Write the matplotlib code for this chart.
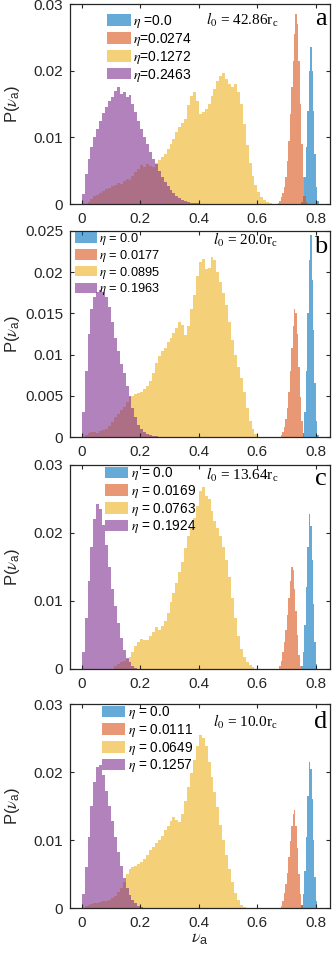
import numpy as np
import matplotlib

matplotlib.use("Agg")
import matplotlib.pyplot as plt
from matplotlib.ticker import FuncFormatter

# P(nu_a) histograms.  Broad curves (yellow, purple) use
# 0.01 bins, the narrow peaks (blue, orange) 0.005 bins; *_x0 is the left edge.
WIDE = 0.01
NARROW = 0.005

# ---- panel a : l0 = 42.86 rc
a_labels = [r"$\eta$ =0.0", r"$\eta$=0.0274", r"$\eta$=0.1272", r"$\eta$=0.2463"]
a_blue_x0 = 0.750
a_blue = [0.0003, 0.0012, 0.0040, 0.0085, 0.0140, 0.0200, 0.0235, 0.0200,
          0.0140, 0.0075, 0.0025, 0.0005]
a_orange_x0 = 0.670
a_orange = [0.0002, 0.0005, 0.0010, 0.0016, 0.0025, 0.0040, 0.0065, 0.0095,
            0.0135, 0.0175, 0.0215, 0.0255, 0.0285, 0.0270, 0.0215, 0.0150,
            0.0090, 0.0040, 0.0012, 0.0003]
a_yellow_x0 = 0.02
a_yellow = [0.0003, 0.0008, 0.0012, 0.0014, 0.0017, 0.0020, 0.0022, 0.0024,
            0.0027, 0.0028, 0.0032, 0.0030, 0.0035, 0.0038, 0.0036, 0.0042,
            0.0048, 0.0052, 0.0058, 0.0055, 0.0060, 0.0057, 0.0056, 0.0062,
            0.0066, 0.0070, 0.0075, 0.0082, 0.0090, 0.0098, 0.0108, 0.0115,
            0.0122, 0.0128, 0.0148, 0.0162, 0.0168, 0.0155, 0.0135, 0.0138,
            0.0142, 0.0150, 0.0162, 0.0172, 0.0184, 0.0192, 0.0197, 0.0188,
            0.0180, 0.0175, 0.0180, 0.0168, 0.0150, 0.0120, 0.0088, 0.0062,
            0.0042, 0.0028, 0.0018, 0.0011, 0.0006, 0.0003, 0.0001]
a_purple_x0 = 0.0
a_purple = [0.0015, 0.0045, 0.0068, 0.0085, 0.0100, 0.0112, 0.0125, 0.0137,
            0.0145, 0.0155, 0.0160, 0.0170, 0.0176, 0.0165, 0.0168, 0.0160,
            0.0163, 0.0150, 0.0138, 0.0125, 0.0112, 0.0100, 0.0090, 0.0078,
            0.0068, 0.0060, 0.0050, 0.0040, 0.0033, 0.0027, 0.0021, 0.0016,
            0.0012, 0.0009, 0.0006, 0.0004, 0.0003, 0.0002, 0.0001, 0.0001]

# ---- panel b : l0 = 20.0 rc
b_labels = [r"$\eta$ = 0.0", r"$\eta$ = 0.0177", r"$\eta$ = 0.0895", r"$\eta$ = 0.1963"]
b_blue_x0 = 0.755
b_blue = [0.0005, 0.0030, 0.0080, 0.0150, 0.0215, 0.0245, 0.0190, 0.0130,
          0.0065, 0.0020, 0.0003]
b_orange_x0 = 0.680
b_orange = [0.0002, 0.0006, 0.0012, 0.0022, 0.0035, 0.0055, 0.0080, 0.0108,
            0.0135, 0.0155, 0.0150, 0.0125, 0.0085, 0.0048, 0.0020, 0.0005]
b_yellow_x0 = 0.01
b_yellow = [0.0003, 0.0005, 0.0006, 0.0006, 0.0005, 0.0007, 0.0008, 0.0010,
            0.0013, 0.0018, 0.0024, 0.0028, 0.0033, 0.0037, 0.0042, 0.0048,
            0.0050, 0.0052, 0.0053, 0.0055, 0.0058, 0.0062, 0.0068, 0.0078,
            0.0090, 0.0098, 0.0104, 0.0108, 0.0115, 0.0120, 0.0126, 0.0132,
            0.0140, 0.0136, 0.0124, 0.0135, 0.0155, 0.0172, 0.0195, 0.0212,
            0.0216, 0.0204, 0.0205, 0.0218, 0.0215, 0.0200, 0.0188, 0.0175,
            0.0160, 0.0140, 0.0118, 0.0100, 0.0085, 0.0072, 0.0055, 0.0035,
            0.0020, 0.0010, 0.0004]
b_purple_x0 = 0.0
b_purple = [0.0030, 0.0080, 0.0125, 0.0155, 0.0170, 0.0176, 0.0178, 0.0176,
            0.0170, 0.0158, 0.0140, 0.0120, 0.0104, 0.0088, 0.0078, 0.0062,
            0.0050, 0.0035, 0.0024, 0.0015, 0.0010, 0.0006, 0.0004, 0.0002,
            0.0001, 0.0001]

# ---- panel c : l0 = 13.64 rc
c_labels = [r"$\eta$ = 0.0", r"$\eta$ = 0.0169", r"$\eta$ = 0.0763", r"$\eta$ = 0.1924"]
c_blue_x0 = 0.750
c_blue = [0.0005, 0.0025, 0.0065, 0.0120, 0.0180, 0.0228, 0.0210, 0.0160,
          0.0095, 0.0040, 0.0008]
c_orange_x0 = 0.675
c_orange = [0.0004, 0.0012, 0.0025, 0.0040, 0.0058, 0.0080, 0.0105, 0.0130,
            0.0150, 0.0145, 0.0118, 0.0085, 0.0050, 0.0020, 0.0005]
c_yellow_x0 = 0.11
c_yellow = [0.0005, 0.0008, 0.0010, 0.0012, 0.0015, 0.0018, 0.0025, 0.0034,
            0.0040, 0.0044, 0.0043, 0.0042, 0.0048, 0.0054, 0.0062, 0.0058,
            0.0063, 0.0070, 0.0082, 0.0098, 0.0112, 0.0126, 0.0142, 0.0158,
            0.0178, 0.0195, 0.0208, 0.0222, 0.0240, 0.0262, 0.0268, 0.0254,
            0.0250, 0.0232, 0.0218, 0.0208, 0.0195, 0.0180, 0.0160, 0.0135,
            0.0105, 0.0075, 0.0048, 0.0030, 0.0018, 0.0010, 0.0006, 0.0003]
c_purple_x0 = 0.0
c_purple = [0.0025, 0.0075, 0.0130, 0.0180, 0.0220, 0.0243, 0.0235, 0.0212,
            0.0182, 0.0150, 0.0118, 0.0092, 0.0068, 0.0045, 0.0028, 0.0016,
            0.0010, 0.0005, 0.0002]

# ---- panel d : l0 = 10.0 rc
d_labels = [r"$\eta$ = 0.0", r"$\eta$ = 0.0111", r"$\eta$ = 0.0649", r"$\eta$ = 0.1257"]
d_blue_x0 = 0.750
d_blue = [0.0004, 0.0020, 0.0055, 0.0105, 0.0165, 0.0215, 0.0205, 0.0160,
          0.0100, 0.0045, 0.0010]
d_orange_x0 = 0.680
d_orange = [0.0003, 0.0010, 0.0022, 0.0035, 0.0052, 0.0075, 0.0098, 0.0120,
            0.0138, 0.0144, 0.0120, 0.0088, 0.0050, 0.0020, 0.0005]
d_yellow_x0 = 0.01
d_yellow = [0.0003, 0.0005, 0.0006, 0.0007, 0.0008, 0.0009, 0.0010, 0.0011,
            0.0012, 0.0015, 0.0018, 0.0023, 0.0030, 0.0038, 0.0050, 0.0058,
            0.0060, 0.0062, 0.0064, 0.0068, 0.0072, 0.0078, 0.0085, 0.0090,
            0.0096, 0.0100, 0.0106, 0.0115, 0.0120, 0.0128, 0.0134, 0.0130,
            0.0126, 0.0138, 0.0158, 0.0178, 0.0198, 0.0218, 0.0238, 0.0254,
            0.0250, 0.0238, 0.0215, 0.0192, 0.0170, 0.0148, 0.0122, 0.0100,
            0.0078, 0.0058, 0.0038, 0.0022, 0.0012, 0.0005, 0.0002]
d_purple_x0 = 0.0
d_purple = [0.0020, 0.0060, 0.0105, 0.0150, 0.0185, 0.0208, 0.0210, 0.0195,
            0.0172, 0.0150, 0.0128, 0.0105, 0.0082, 0.0062, 0.0044, 0.0030,
            0.0019, 0.0012, 0.0007, 0.0003, 0.0001]

l0_texts = ["42.86", "20.0", "13.64", "10.0"]
letters = ["a", "b", "c", "d"]
y_tops = [0.03, 0.025, 0.03, 0.03]
y_steps = [0.01, 0.005, 0.01, 0.01]
x_ticks = [0, 0.2, 0.4, 0.6, 0.8]

# MATLAB default colour order, drawn with FaceAlpha 0.6
COLORS = ["#0072BD", "#D95319", "#EDB120", "#7E2F8E"]

plt.rcParams["font.family"] = ["Liberation Sans", "DejaVu Sans"]
plt.rcParams["mathtext.fontset"] = "stix"

W, H = 332, 955
fig = plt.figure(figsize=(W / 100, H / 100), dpi=100)

# axes boxes in pixels: (left, top, right, bottom)
boxes = [(70, 4, 330, 204), (70, 231, 330, 437), (70, 465, 330, 669), (70, 704, 330, 908)]
# legend anchor (axes fraction) and font size
leg_pos = [(0.142, 0.955), (0.019, 1.0), (0.135, 1.0), (0.123, 1.0)]
leg_size = [10.0, 9.2, 9.8, 9.8]
l0_y = [0.895, 0.932, 0.926, 0.887]
letter_y = [0.895, 0.893, 0.90, 0.88]

panels = [
    (a_labels, [(a_blue_x0, a_blue, NARROW), (a_orange_x0, a_orange, NARROW),
                (a_yellow_x0, a_yellow, WIDE), (a_purple_x0, a_purple, WIDE)]),
    (b_labels, [(b_blue_x0, b_blue, NARROW), (b_orange_x0, b_orange, NARROW),
                (b_yellow_x0, b_yellow, WIDE), (b_purple_x0, b_purple, WIDE)]),
    (c_labels, [(c_blue_x0, c_blue, NARROW), (c_orange_x0, c_orange, NARROW),
                (c_yellow_x0, c_yellow, WIDE), (c_purple_x0, c_purple, WIDE)]),
    (d_labels, [(d_blue_x0, d_blue, NARROW), (d_orange_x0, d_orange, NARROW),
                (d_yellow_x0, d_yellow, WIDE), (d_purple_x0, d_purple, WIDE)]),
]

fmt = FuncFormatter(lambda v, _: f"{v:g}")

for i, (labels, series) in enumerate(panels):
    l, t, r, b = boxes[i]
    ax = fig.add_axes([l / W, (H - b) / H, (r - l) / W, (b - t) / H])

    for (x0, vals, bw), color, lab in zip(series, COLORS, labels):
        edges = x0 + bw * np.arange(len(vals) + 1)
        ax.stairs(vals, edges, fill=True, color=color, alpha=0.6, lw=0, label=lab)

    ax.set_xlim(-0.04, 0.848)
    ax.set_ylim(0, y_tops[i])
    ax.set_xticks(x_ticks)
    ax.set_yticks(np.arange(0, y_tops[i] + 1e-9, y_steps[i]))
    ax.xaxis.set_major_formatter(fmt)
    ax.yaxis.set_major_formatter(fmt)
    ax.tick_params(direction="in", length=3, width=0.8, top=True, right=True,
                   labelsize=11, colors="#262626", pad=5)
    ax.tick_params(axis="x", pad=6)
    for sp in ax.spines.values():
        sp.set_linewidth(0.9)
        sp.set_color("#262626")

    ax.set_ylabel(r"P($\nu_\mathregular{a}$)", fontsize=12, color="#262626")
    ax.yaxis.set_label_coords(-0.185, 0.5)

    ax.legend(loc="upper left", bbox_to_anchor=leg_pos[i], frameon=False,
              fontsize=leg_size[i], handlelength=1.7, handleheight=0.9,
              handletextpad=0.2, labelspacing=0.06, borderpad=0, borderaxespad=0)

    ax.text(0.80, l0_y[i], r"$l_0$ = " + l0_texts[i] + r"r$_\mathregular{c}$",
            transform=ax.transAxes, ha="right", va="baseline", fontsize=11,
            family="Liberation Serif")
    ax.text(0.988, letter_y[i], letters[i], transform=ax.transAxes, ha="right",
            va="baseline", fontsize=19, family="Liberation Serif")

    if i == 3:
        ax.set_xlabel(r"$\nu_\mathregular{a}$", fontsize=13, color="#262626")
        ax.xaxis.set_label_coords(0.5, -0.11)

fig.savefig("out.png", dpi=100)
